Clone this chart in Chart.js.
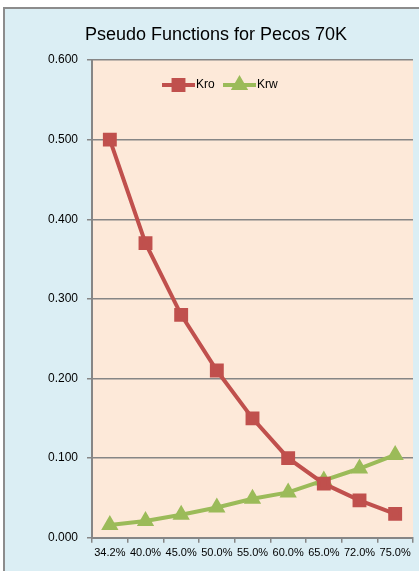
<!DOCTYPE html>
<html>
<head>
<meta charset="utf-8">
<script src="https://cdn.jsdelivr.net/npm/chart.js@4.4.1/dist/chart.umd.min.js"></script>
<style>
  html, body { margin: 0; padding: 0; background: #ffffff; overflow: hidden; }
  #wrap { width: 419px; height: 571px; position: relative; }
  canvas { display: block; }
</style>
</head>
<body>
<div id="wrap"><canvas id="chart" width="419" height="571"></canvas></div>
<script>
// Data
const saturation = ['34.2%', '40.0%', '45.0%', '50.0%', '55.0%', '60.0%', '65.0%', '72.0%', '75.0%'];
const kro = [0.500, 0.370, 0.280, 0.210, 0.150, 0.100, 0.068, 0.047, 0.030];
const krw = [0.016, 0.021, 0.029, 0.038, 0.049, 0.057, 0.072, 0.087, 0.104];
const yTicks = [0, 0.1, 0.2, 0.3, 0.4, 0.5, 0.6];

const colors = {
    kro: '#c0504d',
    krw: '#9bbb59',
    plotBg: '#fde9d9',
    outerBg: '#dbeef4',
    grid: '#868686',
    text: '#000000'
};

// Outer frame and plot area backgrounds
const backgroundPlugin = {
    id: 'backgrounds',
    beforeDraw(chart) {
        const ctx = chart.ctx;
        const a = chart.chartArea;
        ctx.save();
        ctx.fillStyle = '#ffffff';
        ctx.fillRect(0, 0, chart.width, chart.height);
        ctx.fillStyle = colors.outerBg;
        ctx.fillRect(3, 7, chart.width, chart.height);
        ctx.strokeStyle = '#8c8c8c';
        ctx.lineWidth = 2;
        ctx.beginPath();
        ctx.moveTo(4, chart.height + 2);
        ctx.lineTo(4, 8);
        ctx.lineTo(chart.width + 2, 8);
        ctx.stroke();
        ctx.fillStyle = colors.plotBg;
        ctx.fillRect(a.left, a.top, a.right - a.left, a.bottom - a.top);
        ctx.restore();
    }
};

// Legend drawn as line + marker, like the spreadsheet legend
const lineLegendPlugin = {
    id: 'lineLegend',
    afterDraw(chart) {
        const ctx = chart.ctx;
        const items = [
            { x: 162, ds: chart.data.datasets[0] },
            { x: 223, ds: chart.data.datasets[1] }
        ];
        const y = 85;
        ctx.save();
        items.forEach(item => {
            ctx.strokeStyle = item.ds.borderColor;
            ctx.lineWidth = 4;
            ctx.beginPath();
            ctx.moveTo(item.x, y);
            ctx.lineTo(item.x + 33, y);
            ctx.stroke();
            Chart.helpers.drawPoint(ctx, {
                pointStyle: item.ds.pointStyle,
                radius: item.ds.pointRadius,
                borderWidth: 1
            }, item.x + 16.5, y);
            ctx.fillStyle = item.ds.pointBackgroundColor;
            ctx.fill();
            ctx.fillStyle = colors.text;
            ctx.font = '12px "Liberation Sans", Arial, sans-serif';
            ctx.textBaseline = 'middle';
            ctx.textAlign = 'left';
            ctx.fillText(item.ds.label, item.x + 34, y);
        });
        ctx.restore();
    }
};

new Chart(document.getElementById('chart'), {
    type: 'line',
    data: {
        labels: saturation,
        datasets: [
            {
                label: 'Kro',
                data: kro,
                borderColor: colors.kro,
                backgroundColor: colors.kro,
                pointBackgroundColor: colors.kro,
                pointBorderColor: colors.kro,
                pointStyle: 'rect',
                pointRadius: 7,
                borderWidth: 4,
                tension: 0
            },
            {
                label: 'Krw',
                data: krw,
                borderColor: colors.krw,
                backgroundColor: colors.krw,
                pointBackgroundColor: colors.krw,
                pointBorderColor: colors.krw,
                pointStyle: 'triangle',
                pointRadius: 6,
                borderWidth: 4,
                tension: 0
            }
        ]
    },
    options: {
        responsive: false,
        animation: false,
        layout: {
            autoPadding: false,
            padding: { left: 19, right: 6, top: 0, bottom: 7 }
        },
        plugins: {
            legend: { display: false },
            tooltip: { enabled: false },
            title: {
                display: true,
                text: 'Pseudo Functions for Pecos 70K',
                color: colors.text,
                font: { family: '"Liberation Sans", Arial, sans-serif', size: 18, weight: 'normal' },
                padding: { top: 24, bottom: 14.4 }
            }
        },
        scales: {
            y: {
                min: 0,
                max: 0.6,
                afterBuildTicks(scale) {
                    scale.ticks = yTicks.map(v => ({ value: v }));
                },
                afterFit(scale) {
                    scale.width = 73;
                },
                border: { display: true, color: colors.grid, width: 2 },
                grid: { color: colors.grid, lineWidth: 1.5, tickLength: 5 },
                ticks: {
                    color: colors.text,
                    padding: 9,
                    font: { family: '"Liberation Sans", Arial, sans-serif', size: 12 },
                    callback: value => value.toFixed(3)
                }
            },
            x: {
                offset: true,
                afterFit(scale) {
                    scale.paddingRight = 0;
                    scale.paddingLeft = 0;
                },
                border: { display: true, color: colors.grid, width: 2 },
                grid: { offset: true, drawOnChartArea: false, color: colors.grid, lineWidth: 1.5, tickLength: 5 },
                ticks: {
                    color: colors.text,
                    padding: 4,
                    maxRotation: 0,
                    autoSkip: false,
                    font: { family: '"Liberation Sans", Arial, sans-serif', size: 11 }
                }
            }
        }
    },
    plugins: [backgroundPlugin, lineLegendPlugin]
});
</script>
</body>
</html>
